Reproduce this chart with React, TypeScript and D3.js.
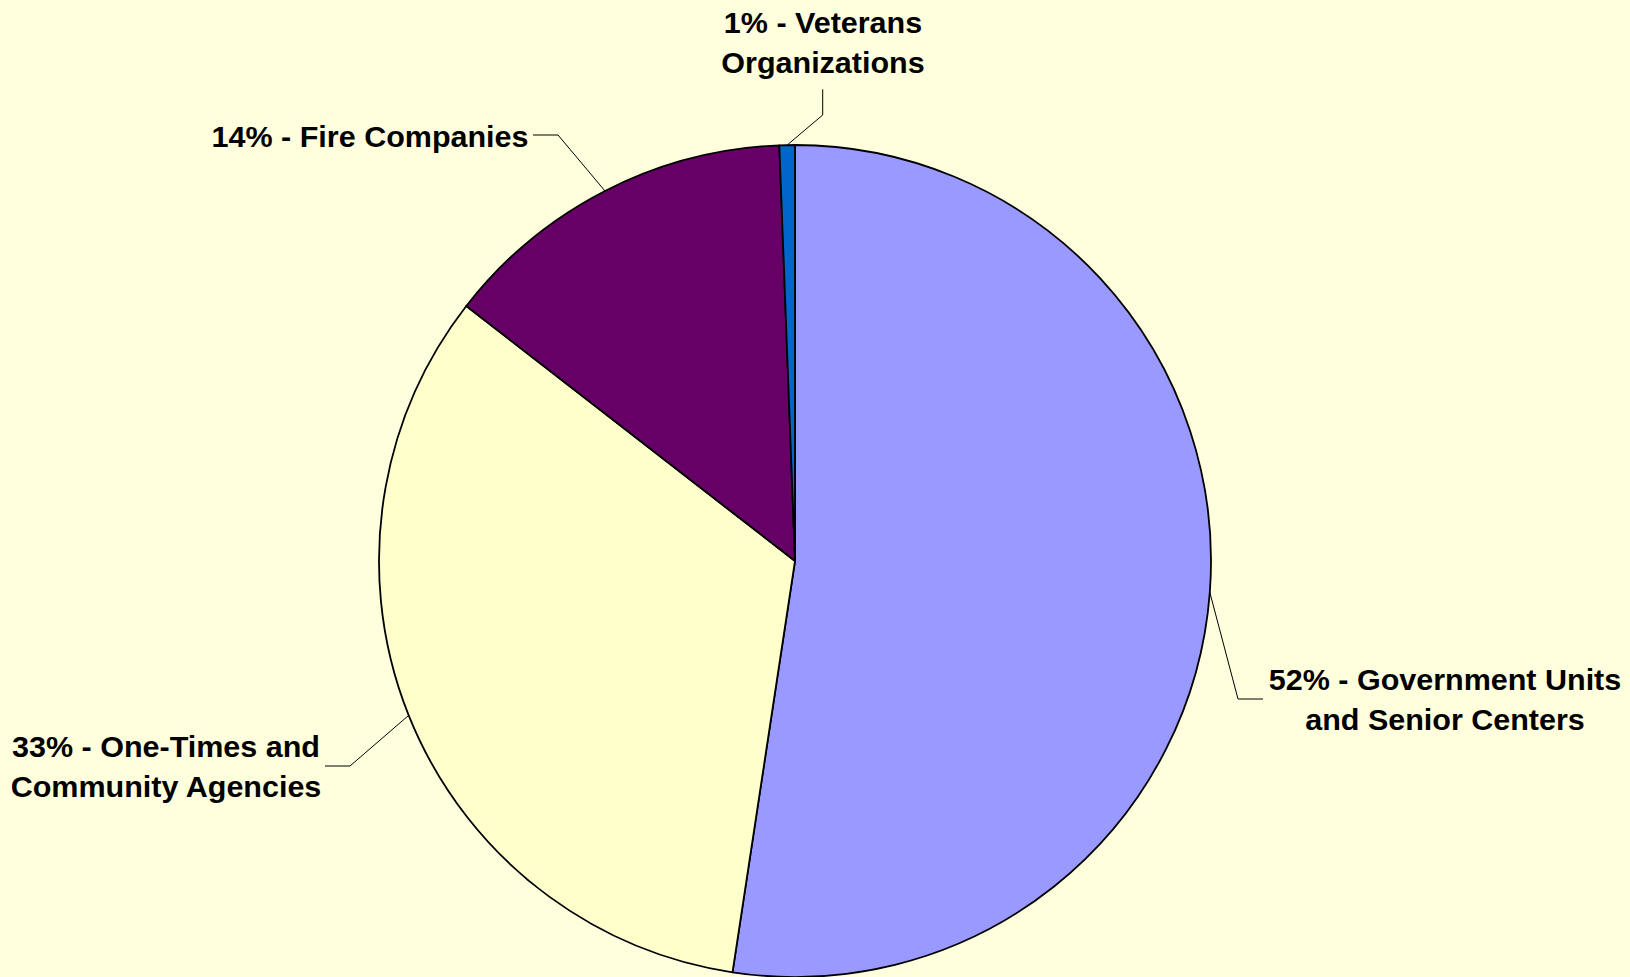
import React from 'react';
import * as d3 from 'd3';

// ---- data ----
const categories = [
  'Government Units and Senior Centers',
  'One-Times and Community Agencies',
  'Fire Companies',
  'Veterans Organizations',
];
const values = [52.4, 33.1, 13.9, 0.6];
const labelLines = [
  ['Government Units', 'and Senior Centers'],
  ['One-Times and', 'Community Agencies'],
  ['Fire Companies'],
  ['Veterans', 'Organizations'],
];
const colors = ['#9999FF', '#FFFFCC', '#660066', '#0066CC'];

// ---- layout (label placement, relative to pie centre) ----
const W = 1630;
const H = 977;
const CX = 795;
const CY = 561;
const R = 416;
const LINE_H = 40;
const FONT = 29;
const STRETCH = 1.052;

type Leader = {
  elbow: [number, number];
  end: [number, number];
  text: [number, number];
  anchor: 'start' | 'middle' | 'end';
};
const leaders: Leader[] = [
  { elbow: [443, 138], end: [468, 138], text: [650, 129], anchor: 'middle' },
  { elbow: [-445, 205], end: [-470, 205], text: [-629, 195.7], anchor: 'middle' },
  { elbow: [-237, -426], end: [-262, -426], text: [-266.5, -413.7], anchor: 'end' },
  { elbow: [27.7, -446], end: [27.7, -471.7], text: [28, -527.7], anchor: 'middle' },
];

export default function App() {
  const data = categories.map((c, i) => ({ name: c, value: values[i], i }));
  const pie = d3
    .pie<{ name: string; value: number; i: number }>()
    .value((d) => d.value)
    .sort(null)
    .startAngle(0)
    .endAngle(2 * Math.PI);
  const arcs = pie(data);
  const arc = d3
    .arc<d3.PieArcDatum<{ name: string; value: number; i: number }>>()
    .innerRadius(0)
    .outerRadius(R);
  const total = d3.sum(values);

  return (
    <svg
      width={W}
      height={H}
      style={{ position: 'absolute', left: 0, top: 0, display: 'block' }}
    >
      <rect x={0} y={0} width={W} height={H} fill="#FFFFDD" />
      <g transform={`translate(${CX},${CY})`}>
        {arcs.map((a) => (
          <path
            key={a.data.name}
            d={arc(a) || ''}
            fill={colors[a.data.i]}
            stroke="#000"
            strokeWidth={1.8}
            strokeLinejoin="round"
          />
        ))}
        {arcs.map((a) => {
          const mid = (a.startAngle + a.endAngle) / 2;
          const p0: [number, number] = [R * Math.sin(mid), -R * Math.cos(mid)];
          const L = leaders[a.data.i];
          const pts = [p0, L.elbow, L.end];
          const line = d3.line()(pts) || '';
          const pct = Math.round((a.data.value / total) * 100);
          const lines = labelLines[a.data.i].slice();
          lines[0] = `${pct}% - ${lines[0]}`;
          return (
            <g key={'l' + a.data.name}>
              <path d={line} fill="none" stroke="#000" strokeWidth={1} />
              <text
                transform={`translate(${L.text[0]},${L.text[1]}) scale(${STRETCH},1)`}
                textAnchor={L.anchor}
                fontFamily="'Liberation Sans', Arial, sans-serif"
                fontWeight="bold"
                fontSize={FONT}
                fill="#000"
              >
                {lines.map((t, j) => (
                  <tspan key={j} x={0} dy={j === 0 ? 0 : LINE_H}>
                    {t}
                  </tspan>
                ))}
              </text>
            </g>
          );
        })}
      </g>
    </svg>
  );
}
